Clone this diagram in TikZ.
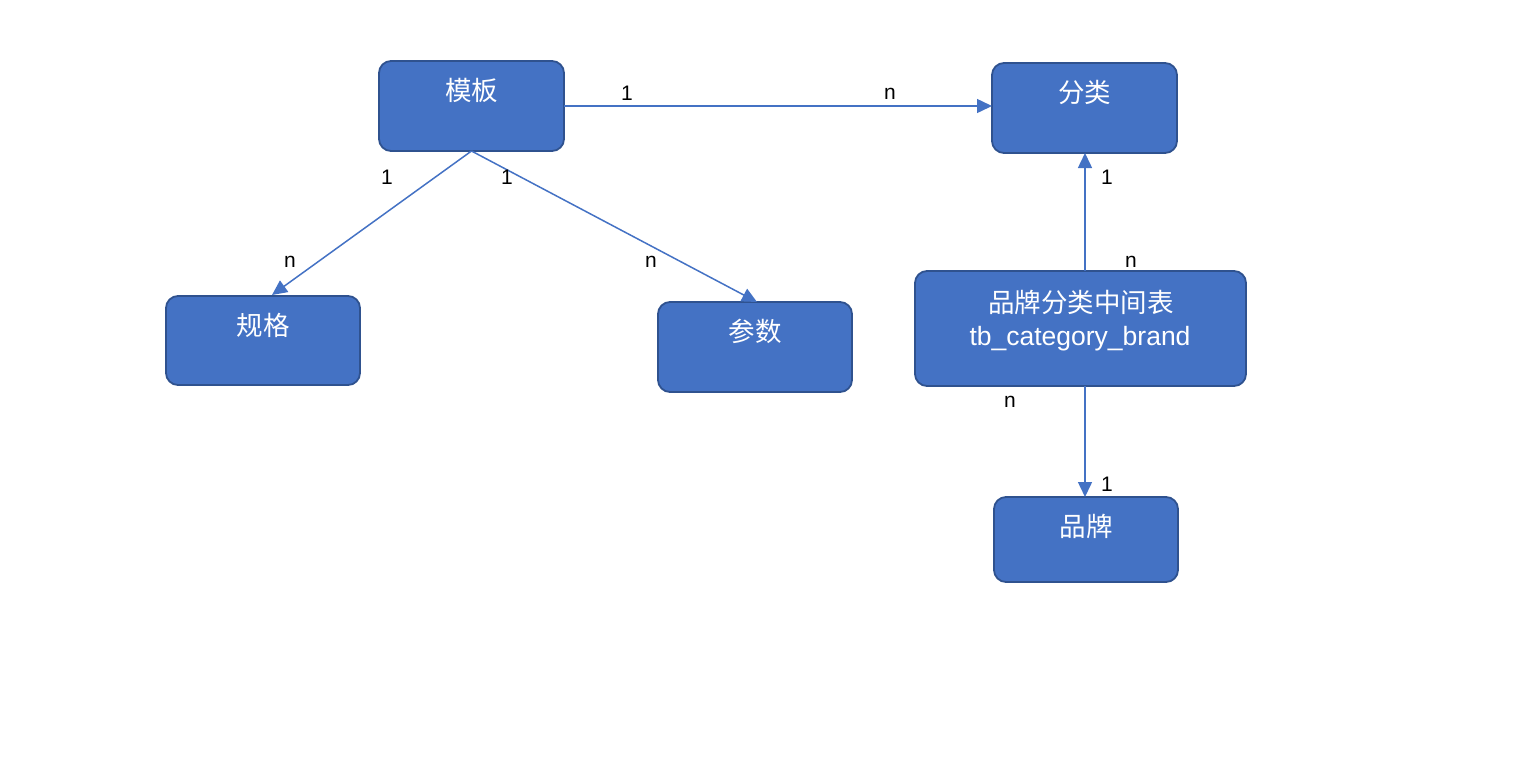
\documentclass[tikz,border=0pt]{standalone}
\usepackage{fontspec}
\setmainfont{Noto Sans CJK SC}
\newfontfamily\latinfont{Liberation Sans}
\usetikzlibrary{arrows.meta}
\definecolor{boxfill}{HTML}{4472C4}
\definecolor{boxline}{HTML}{2F528F}
\definecolor{linkcol}{HTML}{4472C4}
\begin{document}
\begin{tikzpicture}[x=1pt,y=-1pt,
  entity/.style={draw=boxline, line width=1.8pt, fill=boxfill, rounded corners=12pt,
    inner sep=0pt, outer sep=0pt},
  boxtext/.style={text=white, font=\fontsize{26.5}{32}\selectfont, align=center, inner sep=0pt},
  boxlatin/.style={text=white, font=\latinfont\fontsize{26.5}{32}\selectfont, inner sep=0pt},
  card/.style={font=\latinfont\fontsize{21}{24}\selectfont, text=black, inner sep=0pt},
  link/.style={draw=linkcol, line width=1.5pt, -{Triangle[length=15pt,width=14pt]}}]
  \useasboundingbox (0,0) rectangle (1526,766);

  % entity boxes
  \node[entity, minimum width=185pt, minimum height=90pt] (tpl) at (471.5,106) {};
  \node[entity, minimum width=185pt, minimum height=90pt] (cat) at (1084.5,108) {};
  \node[entity, minimum width=194pt, minimum height=89pt] (spec) at (263,340.5) {};
  \node[entity, minimum width=194pt, minimum height=90pt] (para) at (755,347) {};
  \node[entity, minimum width=331pt, minimum height=115pt] (cb) at (1080.5,328.5) {};
  \node[entity, minimum width=184pt, minimum height=85pt] (brand) at (1086,539.5) {};

  % box captions
  \node[boxtext] (tplT) at (471.5,90) {模板};
  \node[boxtext] (catT) at (1084.5,92) {分类};
  \node[boxtext] (specT) at (263,325) {规格};
  \node[boxtext] (paraT) at (755,331) {参数};
  \node[boxtext] (cbT1) at (1081,302) {品牌分类中间表};
  \node[boxlatin] (cbT2) at (1080,339) {tb\_category\_brand};
  \node[boxtext] (brandT) at (1086,526) {品牌};

  % connector end points
  \coordinate (tplB) at (471.5,151);
  \coordinate (specTop) at (272,295);
  \coordinate (paraTop) at (757,302);
  \coordinate (cbTop) at (1085,271);
  \coordinate (cbBot) at (1085,386);
  \coordinate (catBot) at (1085,153);
  \coordinate (brandTop) at (1085,497);

  % relations
  \draw[link] (tpl.east) -- (cat.west |- tpl.east);
  \draw[link] (tplB) -- (specTop);
  \draw[link] (tplB) -- (paraTop);
  \draw[link] (cbTop) -- (catBot);
  \draw[link] (cbBot) -- (brandTop);

  % cardinalities
  \node[card] (c1) at (627,93) {1};
  \node[card] (c2) at (890,94) {n};
  \node[card] (c3) at (387,177) {1};
  \node[card] (c4) at (290,262) {n};
  \node[card] (c5) at (507,177) {1};
  \node[card] (c6) at (651,262) {n};
  \node[card] (c7) at (1107,177) {1};
  \node[card] (c8) at (1131,262) {n};
  \node[card] (c9) at (1010,402) {n};
  \node[card] (c10) at (1107,484) {1};
\end{tikzpicture}
\end{document}
